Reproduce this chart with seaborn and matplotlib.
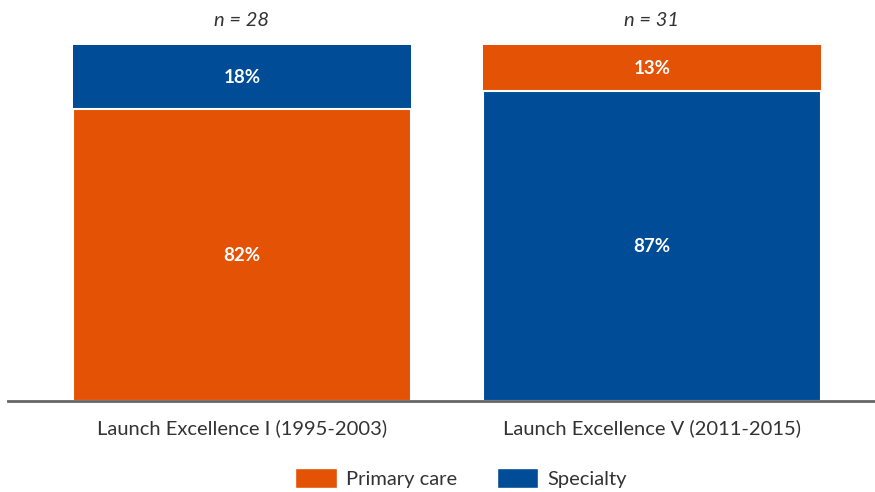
import pandas as pd
import seaborn as sns
import matplotlib.pyplot as plt
from matplotlib.patches import Patch

# data
periods = ["Launch Excellence I (1995-2003)", "Launch Excellence V (2011-2015)"]
primary_care = [82, 13]
specialty = [18, 87]
n_counts = [28, 31]

orange = "#E35205"
blue = "#004C97"

sns.set_style("white")
plt.rcParams['font.family'] = ['Lato', 'DejaVu Sans']

df = pd.DataFrame({"period": periods, "primary": primary_care, "specialty": specialty})
# larger share goes at the bottom of each bar
df["bottom"] = df[["primary", "specialty"]].max(axis=1)
df["total"] = df["primary"] + df["specialty"]
bottom_cols = [orange if p >= s else blue for p, s in zip(primary_care, specialty)]
top_cols = [blue if p >= s else orange for p, s in zip(primary_care, specialty)]

fig = plt.figure(figsize=(8.75, 4.92), dpi=100)
ax = fig.add_axes([0.009, 0.185, 0.991, 0.7235])

sns.barplot(data=df, x="period", y="total", hue="period", palette=top_cols, saturation=1,
            width=0.824, legend=False, ax=ax, edgecolor="none")
sns.barplot(data=df, x="period", y="bottom", hue="period", palette=bottom_cols, saturation=1,
            width=0.824, legend=False, ax=ax, edgecolor="white", linewidth=1.5)

for i, row in df.iterrows():
    b = row["bottom"]
    t = row["total"] - b
    ax.text(i, b / 2, f"{b}%", ha="center", va="center", color="white",
            fontsize=13.5, fontweight="bold")
    ax.text(i, b + t / 2, f"{t}%", ha="center", va="center", color="white",
            fontsize=13.5, fontweight="bold")
    ax.text(i, 107, f"n = {n_counts[i]}", ha="center", va="center", color="#333333",
            fontsize=14.5, style="italic", clip_on=False)

ax.set_xlim(-0.571, 1.544)
ax.set_ylim(0, 100)
ax.set_xlabel("")
ax.set_ylabel("")
ax.set_yticks([])
ax.tick_params(axis="x", length=0, pad=13, labelsize=14.5, labelcolor="#333333")
sns.despine(ax=ax, left=True)
ax.spines["bottom"].set_color("#666666")
ax.spines["bottom"].set_linewidth(2)

handles = [Patch(facecolor=orange, label="Primary care"), Patch(facecolor=blue, label="Specialty")]
fig.legend(handles=handles, loc="center", bbox_to_anchor=(0.527, 0.028), ncol=2,
           frameon=False, fontsize=14.5, handlelength=2.05, handleheight=1.1,
           handletextpad=0.45, columnspacing=2.0, labelcolor="#333333")

fig.savefig("out.png", dpi=100)
